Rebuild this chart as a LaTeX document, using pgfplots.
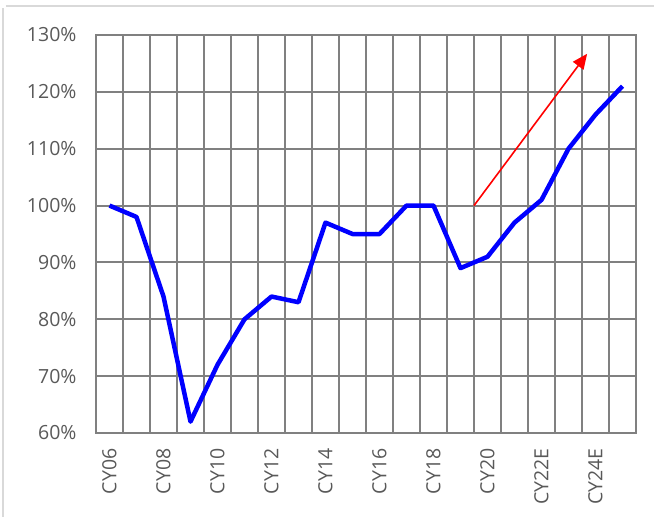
\documentclass[border=0pt]{standalone}
\usepackage{pgfplots}
\pgfplotsset{compat=1.18}
\usepackage{fontspec}
\setmainfont{Open Sans}
\usetikzlibrary{arrows.meta}
\definecolor{txt}{HTML}{595959}
\definecolor{gridc}{HTML}{808080}
\definecolor{frame}{HTML}{D9D9D9}
\pgfplotstableread{
x y
0 100
1 98
2 84
3 62
4 72
5 80
6 84
7 83
8 97
9 95
10 95
11 100
12 100
13 89
14 91
15 97
16 101
17 110
18 116
19 121
}\datatable
\begin{document}
\begin{tikzpicture}
\path[use as bounding box] (-96pt,-84pt) rectangle (558pt,433pt);
\draw[frame, line width=2pt] (-92.5pt,-84pt) -- (-92.5pt,425pt);
\draw[frame, line width=2pt] (-90pt,427pt) -- (558pt,427pt);
\begin{axis}[
  at={(0,0)}, anchor=south west,
  scale only axis, width=540pt, height=398pt,
  xmin=-0.5, xmax=19.5, ymin=60, ymax=130,
  clip=false,
  axis line style={gridc, line width=2pt},
  xtick={0,2,...,18},
  xticklabels={CY06,CY08,CY10,CY12,CY14,CY16,CY18,CY20,CY22E,CY24E},
  minor xtick={-0.5,0.5,...,19.5},
  xminorgrids=true, xmajorgrids=false,
  ytick={60,70,...,130},
  yticklabels={60\%,70\%,80\%,90\%,100\%,110\%,120\%,130\%},
  ymajorgrids=true,
  major grid style={gridc, line width=2pt},
  minor grid style={gridc, line width=2pt},
  major tick length=0pt, minor tick length=0pt,
  tick style={draw=none},
  tick label style={font=\fontsize{19.5}{22}\selectfont, text=txt},
  xticklabel style={rotate=90, anchor=east, yshift=0pt, xshift=-12pt},
  yticklabel style={anchor=east, xshift=-16pt},
  /pgf/number format/assume math mode=true,
]
\addplot[color={rgb,255:red,0;green,0;blue,255}, line width=4.5pt, line join=round] table[x=x,y=y] {\datatable};
\addplot[red, line width=1.6pt, -{Triangle[length=15pt,width=13pt]}] coordinates {(13.5,100) (17.69,126.7)};
\end{axis}
\end{tikzpicture}
\end{document}
